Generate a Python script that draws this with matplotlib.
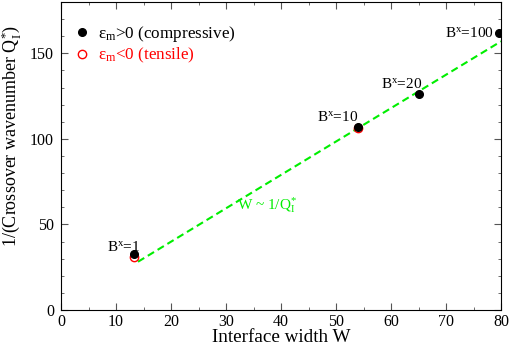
import matplotlib
matplotlib.use('Agg')
import matplotlib.pyplot as plt

plt.rcParams['font.family'] = ['Liberation Serif', 'DejaVu Serif']
plt.rcParams['mathtext.fontset'] = 'custom'
plt.rcParams['mathtext.rm'] = 'Liberation Serif'
plt.rcParams['mathtext.it'] = 'Liberation Serif'

# compressive (filled) and tensile (open) points
w_comp = [13.3, 54.0, 65.0, 79.7]
q_comp = [32.6, 107.0, 126.2, 161.7]
w_tens = [13.3, 54.0]
q_tens = [31.2, 106.3]

# linear trend W ~ 1/Q
w_fit = [14.0, 80.0]
q_fit = [28.2, 157.0]

bx_labels = ['B$^{\\mathrm{x}}$=1', 'B$^{\\mathrm{x}}$=10', 'B$^{\\mathrm{x}}$=20', 'B$^{\\mathrm{x}}$=100']
bx_pos = [(8.4, 34.5), (46.5, 110.5), (58.2, 130.0), (69.8, 159.5)]

fig = plt.figure(figsize=(5.11, 3.46), dpi=100)
ax = fig.add_axes([61/511, 1 - 310/346, 440/511, 308/346])

ax.plot(w_fit, q_fit, color='#00ee00', lw=1.5, ls=(0, (3.5, 2)))
ax.plot(w_tens, q_tens, 'o', mfc='none', mec='red', mew=1.0, ms=6,
        label='ε$_{\\mathrm{m}}$<0 (tensile)')
ax.plot(w_comp, q_comp, 'o', color='black', ms=5.5,
        label='ε$_{\\mathrm{m}}$>0 (compressive)')

for lab, (x, y) in zip(bx_labels, bx_pos):
    ax.text(x, y, lab, fontsize=11, va='baseline')

ax.text(32, 58.5, 'W ~ 1/Q$_{\\mathrm{I}}^{*}$', color='#00ee00', fontsize=11, va='baseline')

ax.set_xlim(0, 80)
ax.set_ylim(0, 180)
ax.set_xticks(range(0, 81, 10))
ax.set_xticks(range(0, 81, 5), minor=True)
ax.set_yticks([0, 50, 100, 150])
ax.set_yticks(range(0, 181, 10), minor=True)
ax.tick_params(which='both', direction='in', top=True, right=True, labelsize=11.5, color='#555555')
ax.tick_params(which='major', length=5)
ax.tick_params(which='minor', length=2.5)
ax.tick_params(axis='x', pad=3)
ax.tick_params(axis='y', pad=5)

ax.set_xlabel('Interface width W', fontsize=13.8, labelpad=-0.5)
ax.set_ylabel('1/(Crossover wavenumber Q$_{\\mathrm{I}}^{*}$)', fontsize=13)
ax.yaxis.set_label_coords(-0.086, 0.565)

handles, labels = ax.get_legend_handles_labels()
leg = ax.legend(handles[::-1], labels[::-1], loc='upper left', bbox_to_anchor=(0.012, 0.95),
                frameon=False, fontsize=12.3, borderaxespad=0, handlelength=1,
                handletextpad=0.44, labelspacing=0.1)
leg.get_texts()[1].set_color('red')

fig.savefig('out.png', dpi=100)
